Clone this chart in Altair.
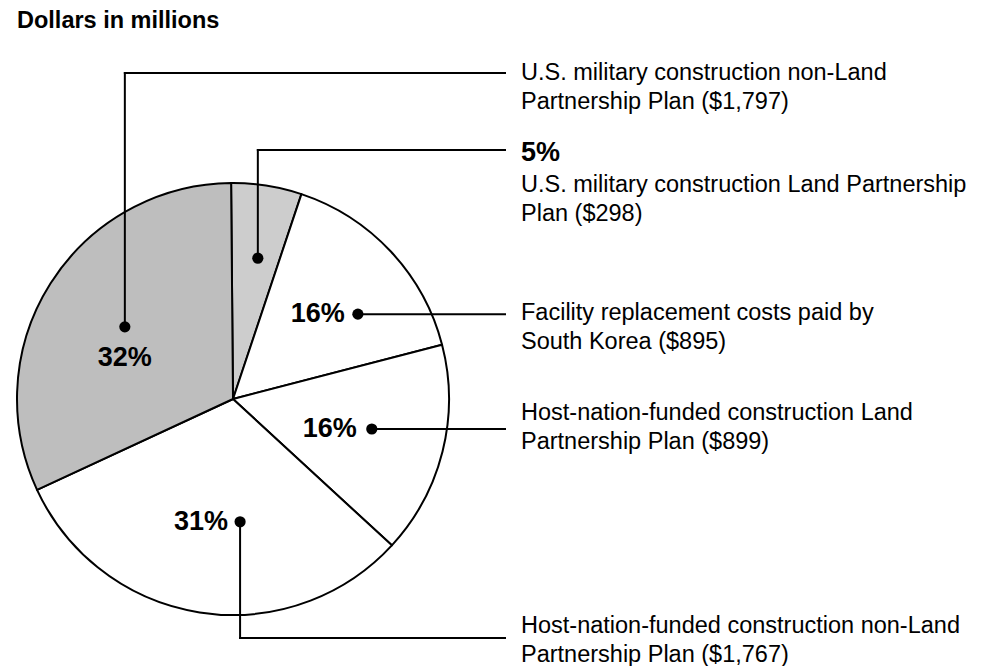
import math
import altair as alt
import pandas as pd

# ---------------- data ----------------
categories = [
    "U.S. military construction Land Partnership Plan",
    "Facility replacement costs paid by South Korea",
    "Host-nation-funded construction Land Partnership Plan",
    "Host-nation-funded construction non-Land Partnership Plan",
    "U.S. military construction non-Land Partnership Plan",
]
values = [298, 895, 899, 1767, 1797]
pct_labels = ["5%", "16%", "16%", "31%", "32%"]
label_lines = [
    ["U.S. military construction Land Partnership", "Plan ($298)"],
    ["Facility replacement costs paid by", "South Korea ($895)"],
    ["Host-nation-funded construction Land", "Partnership Plan ($899)"],
    ["Host-nation-funded construction non-Land", "Partnership Plan ($1,767)"],
    ["U.S. military construction non-Land", "Partnership Plan ($1,797)"],
]
title_text = "Dollars in millions"

# ---------------- styling / layout ----------------
fills = ["#cdcdcd", "#ffffff", "#ffffff", "#ffffff", "#bebebe"]
FONT = "Liberation Sans"
W, H = 982, 666
CX, CY, R = 233, 399, 216
START_DEG = -0.5
anchor_deg = [10.0, 55.8, 102.2, 176.7, 303.7]
anchor_r = [143, 151, 142, 123, 130]
elbow_y = [150, None, None, 638, 73]
LINE_END_X = 505
TEXT_X = 521
text_first_y = [185, 313, 413, 626, 73]
LINE_H = 28.5
BODY_SIZE = 23.5
PCT_SIZE = 27
TITLE_SIZE = 23.5
# percentage label placement relative to anchor dot: (dx, dy, align); None -> in text column
pct_place = [None, (-13, 0, "right"), (-15, 0, "right"), (-12, 0, "right"), (0, 31, "center")]
PCT_COLUMN_Y = 153

# ---------------- build tables ----------------
pie_df = pd.DataFrame({"category": categories, "value": values, "idx": list(range(len(values)))})

dots, segs, texts, pcts = [], [], [], []
for i in range(len(values)):
    a = math.radians(anchor_deg[i])
    dx = CX + anchor_r[i] * math.sin(a)
    dy = CY - anchor_r[i] * math.cos(a)
    dots.append({"x": dx, "y": dy})
    ey = dy if elbow_y[i] is None else elbow_y[i]
    if abs(ey - dy) > 0.5:
        segs.append({"x": dx, "y": dy, "x2": dx, "y2": ey})
    segs.append({"x": dx, "y": ey, "x2": LINE_END_X, "y2": ey})
    for j, line in enumerate(label_lines[i]):
        texts.append({"x": TEXT_X, "y": text_first_y[i] + j * LINE_H, "text": line})
    if pct_place[i] is None:
        pcts.append({"x": TEXT_X, "y": PCT_COLUMN_Y, "text": pct_labels[i], "align": "left"})
    else:
        ox, oy, al = pct_place[i]
        pcts.append({"x": dx + ox, "y": dy + oy, "text": pct_labels[i], "align": al})

dots_df = pd.DataFrame(dots)
segs_df = pd.DataFrame(segs)
texts_df = pd.DataFrame(texts)
pcts_df = pd.DataFrame(pcts)

start = math.radians(START_DEG)

pie = alt.Chart(pie_df).mark_arc(
    outerRadius=R, stroke="black", strokeWidth=2, strokeJoin="round"
).encode(
    theta=alt.Theta("value:Q", stack=True, scale=alt.Scale(range=[start, start + 2 * math.pi])),
    color=alt.Color("category:N", scale=alt.Scale(domain=categories, range=fills), legend=None),
    order=alt.Order("idx:Q"),
    x=alt.value(CX),
    y=alt.value(CY),
)

px = lambda f: alt.X(f, scale=None, axis=None)
py = lambda f: alt.Y(f, scale=None, axis=None)

rules = alt.Chart(segs_df).mark_rule(color="black", strokeWidth=2, strokeCap="square").encode(
    x=px("x:Q"), x2="x2:Q", y=py("y:Q"), y2="y2:Q"
)

dot_layer = alt.Chart(dots_df).mark_circle(color="black", opacity=1, size=125).encode(
    x=px("x:Q"), y=py("y:Q")
)

body = alt.Chart(texts_df).mark_text(
    font=FONT, fontSize=BODY_SIZE, align="left", baseline="middle", color="black"
).encode(x=px("x:Q"), y=py("y:Q"), text="text:N")

pct_layers = []
for al in ["left", "right", "center"]:
    sub = pcts_df[pcts_df["align"] == al]
    if len(sub) == 0:
        continue
    pct_layers.append(
        alt.Chart(sub).mark_text(
            font=FONT, fontSize=PCT_SIZE, fontWeight="bold", align=al, baseline="middle", color="black"
        ).encode(x=px("x:Q"), y=py("y:Q"), text="text:N")
    )

title_layer = alt.Chart(pd.DataFrame({"text": [title_text]})).mark_text(
    font=FONT, fontSize=TITLE_SIZE, fontWeight="bold", align="left", baseline="middle", color="black"
).encode(x=alt.value(17), y=alt.value(21), text="text:N")

chart = alt.layer(pie, rules, dot_layer, body, *pct_layers, title_layer).properties(
    width=W, height=H, autosize=alt.AutoSizeParams(type="none"), padding=0,
    background="white",
).configure_view(stroke=None)

chart.save("out.html", embed_options={"renderer": "svg", "actions": False})
